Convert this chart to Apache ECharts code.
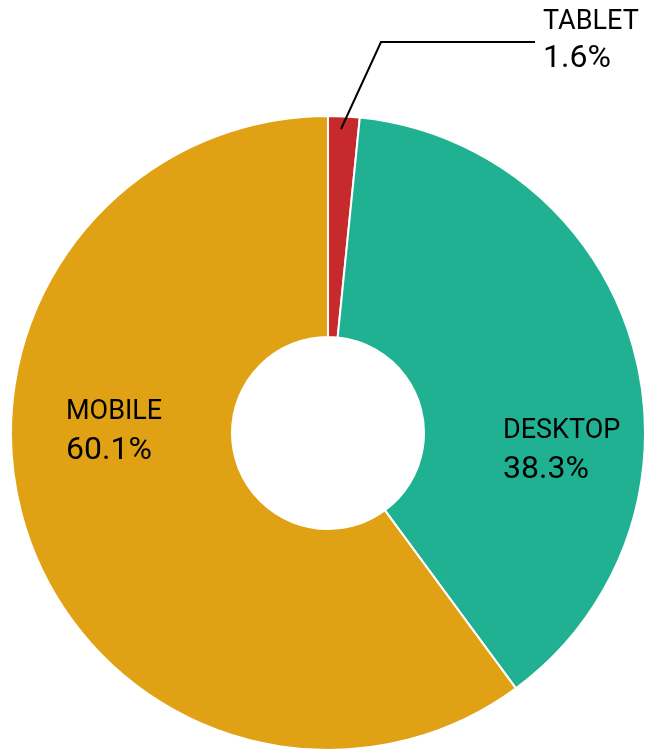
<!DOCTYPE html>
<html>
<head>
<meta charset="utf-8">
<script src="https://cdn.jsdelivr.net/npm/echarts@6/dist/echarts.min.js"></script>
<style>
  html, body { margin: 0; padding: 0; background: #fff; }
  #chart { width: 645px; height: 754px; }
</style>
</head>
<body>
<div id="chart"></div>
<script>
// device share, clockwise from 12 o'clock
let categories = ['TABLET', 'DESKTOP', 'MOBILE']
let shares = [1.6, 38.3, 60.1]
let colors = ['#C62A2D', '#20B193', '#E1A115']

let myChart = echarts.init(document.getElementById('chart'))

// label anchors (left/top of each text block)
let labelSpots = [
    { x: 543, y: 4, line: [[341, 129], [381, 42], [535, 42]] },
    { x: 503, y: 412 },
    { x: 66, y: 393 }
]

let richText = {
    n: { fontFamily: 'Roboto', fontSize: 27, color: '#000', lineHeight: 38 },
    v: { fontFamily: 'Roboto', fontSize: 32, color: '#000', lineHeight: 40 }
}

function fmt(p) {
    return '{n|' + p.name + '}\n{v|' + p.value + '%}'
}

function layout(params) {
    let s = labelSpots[params.dataIndex]
    let out = { x: s.x, y: s.y, align: 'left', verticalAlign: 'top' }
    if (s.line) out.labelLinePoints = s.line
    return out
}

let option = {
    animation: false,
    series: [
        {
            type: 'pie',
            center: [328, 433],
            radius: [96, 317],
            startAngle: 90,
            avoidLabelOverlap: false,
            itemStyle: {
                borderColor: '#fff',
                borderWidth: 2
            },
            label: {
                show: true,
                position: 'inside',
                formatter: fmt,
                rich: richText
            },
            labelLine: { show: false },
            labelLayout: layout,
            data: categories.map(function(name, i) {
                let item = { name: name, value: shares[i], itemStyle: { color: colors[i] } }
                if (i === 0) item.label = { show: false }
                return item
            })
        },
        {
            // overlay so the tablet leader line sits above the slices
            type: 'pie',
            z: 5,
            silent: true,
            center: [328, 433],
            radius: [96, 317],
            startAngle: 90,
            avoidLabelOverlap: false,
            itemStyle: { color: 'transparent', borderWidth: 0 },
            label: {
                show: true,
                position: 'outside',
                formatter: fmt,
                rich: {
                    n: { fontFamily: 'Roboto', fontSize: 27, color: '#000', lineHeight: 36 },
                    v: { fontFamily: 'Roboto', fontSize: 32, color: '#000', lineHeight: 38 }
                }
            },
            labelLine: { show: true, lineStyle: { color: '#000', width: 2 } },
            labelLayout: layout,
            data: categories.map(function(name, i) {
                let item = { name: name, value: shares[i] }
                if (i !== 0) {
                    item.label = { show: false }
                    item.labelLine = { show: false }
                }
                return item
            })
        }
    ]
}

myChart.setOption(option)
window.addEventListener('resize', function() {
    myChart.resize()
})
</script>
</body>
</html>
